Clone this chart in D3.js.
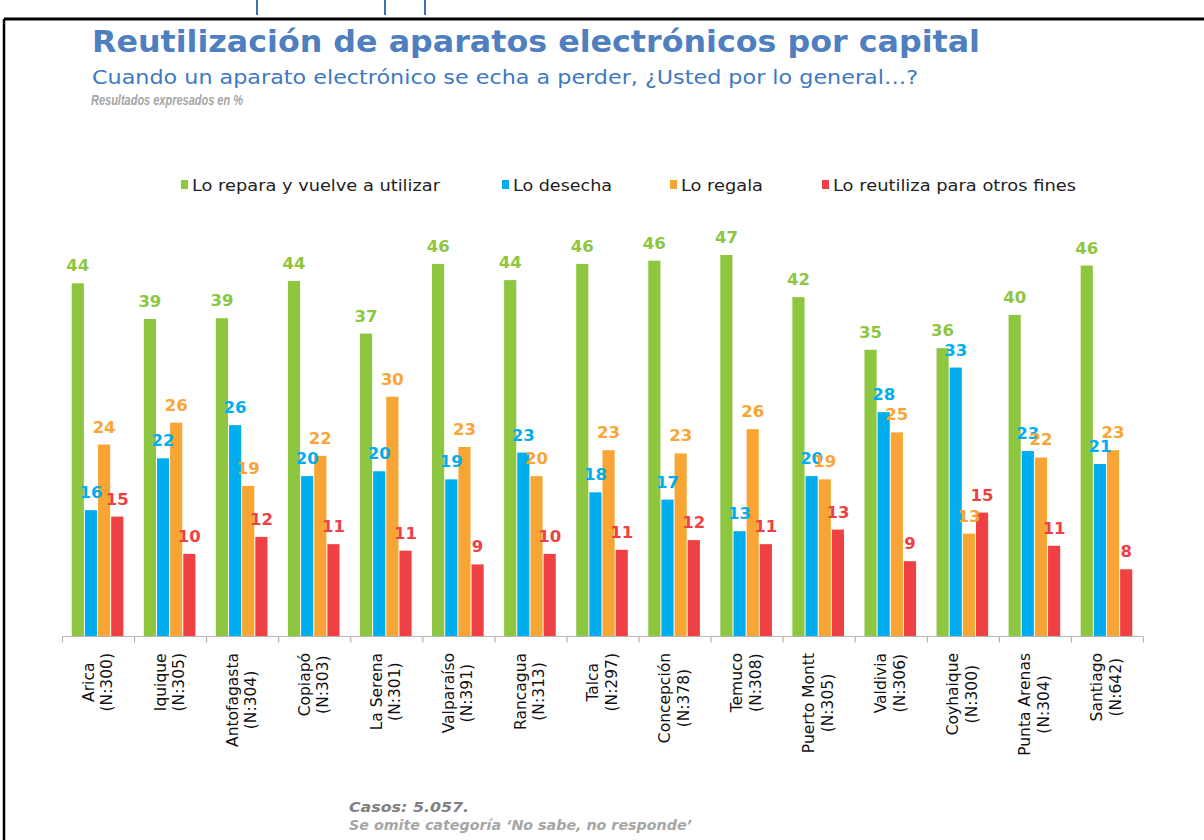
<!DOCTYPE html>
<html>
<head>
<meta charset="utf-8">
<script src="https://cdn.jsdelivr.net/npm/d3@7"></script>
<style>
  html, body { margin: 0; padding: 0; background: #fff; }
  svg { display: block; }
</style>
</head>
<body>
<svg id="chart" width="1204" height="840"></svg>
<script>
const categories = ["Arica","Iquique","Antofagasta","Copiapó","La Serena","Valparaíso","Rancagua","Talca","Concepción","Temuco","Puerto Montt","Valdivia","Coyhaique","Punta Arenas","Santiago"];
const sampleSizes = ["(N:300)","(N:305)","(N:304)","(N:303)","(N:301)","(N:391)","(N:313)","(N:297)","(N:378)","(N:308)","(N:305)","(N:306)","(N:300)","(N:304)","(N:642)"];
const seriesNames = ["Lo repara y vuelve a utilizar","Lo desecha","Lo regala","Lo reutiliza para otros fines"];
const repara    = [43.6, 39.2, 39.3, 43.9, 37.4, 46.0, 44.0, 46.0, 46.4, 47.1, 41.9, 35.4, 35.6, 39.7, 45.8];
const desecha   = [15.6, 22.0, 26.1, 19.8, 20.4, 19.4, 22.7, 17.8, 16.9, 13.0, 19.8, 27.7, 33.2, 22.9, 21.3];
const regala    = [23.7, 26.4, 18.6, 22.3, 29.6, 23.4, 19.8, 23.0, 22.6, 25.6, 19.4, 25.2, 12.7, 22.1, 23.0];
const reutiliza = [14.8, 10.2, 12.3, 11.4, 10.6, 8.9, 10.2, 10.7, 11.9, 11.4, 13.2, 9.3, 15.3, 11.2, 8.3];
const seriesValues = [repara, desecha, regala, reutiliza];
const colors = ["#8dc63f", "#00aeef", "#f9a535", "#ef4044"];

const svg = d3.select("#chart");
const FONT = "'DejaVu Sans', Verdana, sans-serif";

// frame
svg.append("line").attr("x1", 4).attr("x2", 1204).attr("y1", 19).attr("y2", 19)
  .attr("stroke", "#000").attr("stroke-width", 3);
svg.append("line").attr("x1", 4).attr("x2", 4).attr("y1", 19).attr("y2", 840)
  .attr("stroke", "#000").attr("stroke-width", 2.5);
// cut-off text fragments above the frame
[257, 385, 425].forEach(x => {
  svg.append("line").attr("x1", x).attr("x2", x).attr("y1", 0).attr("y2", 15)
    .attr("stroke", "#3f72b5").attr("stroke-width", 2);
});

// titles
svg.append("text").attr("x", 92).attr("y", 52)
  .attr("font-family", FONT).attr("font-weight", "bold").attr("font-size", 30)
  .attr("fill", "#4f7fbf").attr("textLength", 888).attr("lengthAdjust", "spacingAndGlyphs")
  .text("Reutilización de aparatos electrónicos por capital");
svg.append("text").attr("x", 92).attr("y", 84)
  .attr("font-family", FONT).attr("font-size", 19)
  .attr("fill", "#3d78c2").attr("textLength", 826).attr("lengthAdjust", "spacingAndGlyphs")
  .text("Cuando un aparato electrónico se echa a perder, ¿Usted por lo general…?");
svg.append("text").attr("x", 91).attr("y", 105)
  .attr("font-family", "'Liberation Sans', Arial, sans-serif").attr("font-size", 14).attr("font-weight", "bold").attr("font-style", "italic")
  .attr("fill", "#a6a6a6").attr("textLength", 152).attr("lengthAdjust", "spacingAndGlyphs")
  .text("Resultados expresados en %");

// legend
const legendX = [181, 502, 670, 822];
const legendW = [248, 99, 82, 243];
const lg = svg.append("g");
seriesNames.forEach((name, i) => {
  lg.append("rect").attr("x", legendX[i]).attr("y", 180).attr("width", 7).attr("height", 9)
    .attr("fill", colors[i]);
  lg.append("text").attr("x", legendX[i] + 11).attr("y", 191)
    .attr("font-family", FONT).attr("font-size", 16.5).attr("fill", "#222")
    .attr("textLength", legendW[i]).attr("lengthAdjust", "spacingAndGlyphs")
    .text(name);
});

// scales
const x0 = d3.scaleBand().domain(categories).range([62, 1143]).paddingInner(0).paddingOuter(0);
const bw = x0.bandwidth();
const x1 = d3.scaleBand().domain(d3.range(4)).range([bw * 0.135, bw * 0.865]);
const y = d3.scaleLinear().domain([0, 50]).range([636.5, 231.5]);

const groups = svg.append("g").selectAll("g").data(categories).join("g")
  .attr("transform", d => `translate(${x0(d)},0)`);

const fmt = d3.format(".0f");
groups.each(function(cat, ci) {
  const g = d3.select(this);
  seriesValues.forEach((vals, si) => {
    const v = vals[ci];
    g.append("rect")
      .attr("x", x1(si)).attr("y", y(v))
      .attr("width", x1.bandwidth() - 1).attr("height", y(0) - y(v))
      .attr("fill", colors[si]);
  });
  seriesValues.forEach((vals, si) => {
    const v = vals[ci];
    g.append("text")
      .attr("x", x1(si) + (x1.bandwidth() - 1) / 2).attr("y", y(v) - 12)
      .attr("text-anchor", "middle")
      .attr("font-family", FONT).attr("font-weight", "bold").attr("font-size", 16.5)
      .attr("fill", colors[si])
      .text(fmt(v));
  });
});

// axis
const tickScale = d3.scaleLinear().domain([0, categories.length]).range([62, 1143]);
const axis = svg.append("g").attr("transform", "translate(0,636.5)")
  .call(d3.axisBottom(tickScale).tickValues(d3.range(categories.length + 1)).tickSize(6).tickFormat(""));
axis.select(".domain").attr("stroke", "#b5b5b5").attr("stroke-width", 1.2).attr("d", "M62,0H1143");
axis.selectAll(".tick line").attr("stroke", "#b5b5b5").attr("stroke-width", 1.2);

// category labels (rotated, two lines, centered block with top at y=653)
const labelG = svg.append("g");
categories.forEach((cat, i) => {
  const cx = x0(cat) + bw / 2;
  const t1 = labelG.append("text").attr("font-family", FONT).attr("font-size", 15.5).attr("fill", "#111")
    .attr("text-anchor", "middle").attr("dominant-baseline", "central").text(cat);
  const t2 = labelG.append("text").attr("font-family", FONT).attr("font-size", 15.5).attr("fill", "#111")
    .attr("text-anchor", "middle").attr("dominant-baseline", "central").text(sampleSizes[i]);
  const w = Math.max(t1.node().getComputedTextLength(), t2.node().getComputedTextLength());
  const cy = 653 + w / 2;
  t1.attr("transform", `translate(${cx - 9.5},${cy}) rotate(-90)`);
  t2.attr("transform", `translate(${cx + 9},${cy}) rotate(-90)`);
});

// footer
svg.append("text").attr("x", 349).attr("y", 812)
  .attr("font-family", FONT).attr("font-size", 14).attr("font-weight", "bold").attr("font-style", "italic")
  .attr("fill", "#808080").attr("textLength", 120).attr("lengthAdjust", "spacingAndGlyphs")
  .text("Casos: 5.057.");
svg.append("text").attr("x", 349).attr("y", 830)
  .attr("font-family", FONT).attr("font-size", 14).attr("font-weight", "bold").attr("font-style", "italic")
  .attr("fill", "#a6a6a6").attr("textLength", 343).attr("lengthAdjust", "spacingAndGlyphs")
  .text("Se omite categoría ‘No sabe, no responde’");
</script>
</body>
</html>
